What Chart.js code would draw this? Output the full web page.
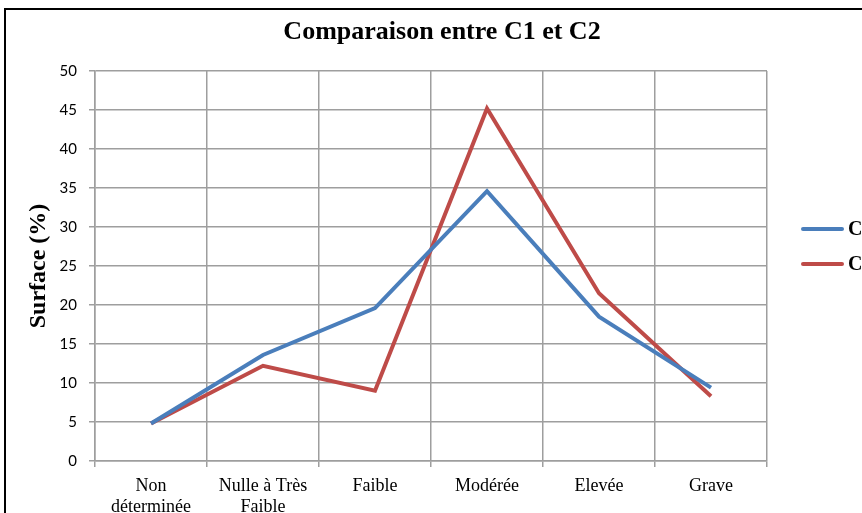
<!DOCTYPE html>
<html>
<head>
<meta charset="utf-8">
<script src="https://cdn.jsdelivr.net/npm/chart.js@4/dist/chart.umd.min.js"></script>
<style>
  html, body { margin: 0; padding: 0; background: #fff; overflow: hidden; }
  #chart { display: block; }
</style>
</head>
<body>
<canvas id="chart" width="862" height="513"></canvas>
<script>
/* ── DATA ── */
const categories = [['Non', 'déterminée'], ['Nulle à Très', 'Faible'], 'Faible', 'Modérée', 'Elevée', 'Grave'];
const seriesNames = ['C1', 'C2'];
const valuesC1 = [4.8, 13.6, 19.6, 34.6, 18.5, 9.4];
const valuesC2 = [4.8, 12.2, 9.0, 45.2, 21.5, 8.3];
const yMin = 0, yMax = 50, yStep = 5;

const titleText = 'Comparaison entre C1 et C2';
const yTitleText = 'Surface (%)';

const colors = {
    c1: '#4a7ebb',
    c2: '#be4b48',
    grid: '#9e9e9e',
    text: '#000'
};

// frame around the whole figure (the reference is cropped on the right/bottom)
const framePlugin = {
    id: 'frame',
    beforeDraw(chart) {
        const ctx = chart.ctx;
        ctx.save();
        ctx.fillStyle = '#fff';
        ctx.fillRect(0, 0, chart.width, chart.height);
        ctx.restore();
    },
    afterDraw(chart) {
        const ctx = chart.ctx;
        ctx.save();
        ctx.strokeStyle = '#000';
        ctx.lineWidth = 2;
        ctx.strokeRect(5, 9, 1000, 1000);
        ctx.restore();
    }
};

// legend on the right, partially cut off like the reference
const sideLegend = {
    id: 'sideLegend',
    afterDraw(chart) {
        const ctx = chart.ctx;
        ctx.save();
        chart.data.datasets.forEach((ds, i) => {
            const y = 229 + i * 35;
            ctx.strokeStyle = ds.borderColor;
            ctx.lineWidth = 4;
            ctx.lineCap = 'round';
            ctx.beginPath();
            ctx.moveTo(803, y);
            ctx.lineTo(842, y);
            ctx.stroke();
            ctx.fillStyle = colors.text;
            ctx.font = 'bold 20px "Liberation Serif"';
            ctx.textBaseline = 'middle';
            ctx.fillText(ds.label, 848, y + 1);
        });
        ctx.restore();
    }
};

new Chart(document.getElementById('chart').getContext('2d'), {
    type: 'line',
    data: {
        labels: categories,
        datasets: [{
            label: seriesNames[0],
            data: valuesC1,
            borderColor: colors.c1,
            backgroundColor: colors.c1,
            borderWidth: 4,
            pointRadius: 0,
            tension: 0
        }, {
            label: seriesNames[1],
            data: valuesC2,
            borderColor: colors.c2,
            backgroundColor: colors.c2,
            borderWidth: 4,
            pointRadius: 0,
            tension: 0
        }]
    },
    options: {
        responsive: false,
        animation: false,
        devicePixelRatio: 1,
        layout: { padding: { left: 22, right: 0, top: 0, bottom: 0 } },
        plugins: {
            legend: { display: false },
            tooltip: { enabled: false },
            title: {
                display: true,
                text: titleText,
                color: colors.text,
                font: { family: 'Liberation Serif', size: 26, weight: 'bold' },
                padding: { top: 17, bottom: 22.8 }
            }
        },
        scales: {
            x: {
                offset: true,
                grid: { offset: true, color: colors.grid, lineWidth: 1.5, tickLength: 6 },
                border: { color: colors.grid, width: 1.5 },
                ticks: {
                    color: colors.text,
                    padding: 9,
                    maxRotation: 0,
                    autoSkip: false,
                    font: { family: 'Liberation Serif', size: 18, lineHeight: 1.15 }
                },
                afterFit(scale) { scale.height = 52; }
            },
            y: {
                min: yMin,
                max: yMax,
                grid: { color: colors.grid, lineWidth: 1.5, tickLength: 6 },
                border: { color: colors.grid, width: 1.5 },
                ticks: {
                    stepSize: yStep,
                    color: colors.text,
                    padding: 12,
                    font: { family: 'Lato', size: 15 }
                },
                title: {
                    display: true,
                    text: yTitleText,
                    color: colors.text,
                    font: { family: 'Liberation Serif', size: 24, weight: 'bold' },
                    padding: { top: 2, bottom: 0 }
                },
                afterFit(scale) { scale.width = 73; }
            },
            // empty box on the right that leaves room for the legend
            yRight: {
                position: 'right',
                display: true,
                grid: { display: false, drawOnChartArea: false },
                border: { display: false },
                ticks: { display: false },
                afterFit(scale) { scale.width = 95; }
            }
        }
    },
    plugins: [framePlugin, sideLegend]
});
</script>
</body>
</html>
